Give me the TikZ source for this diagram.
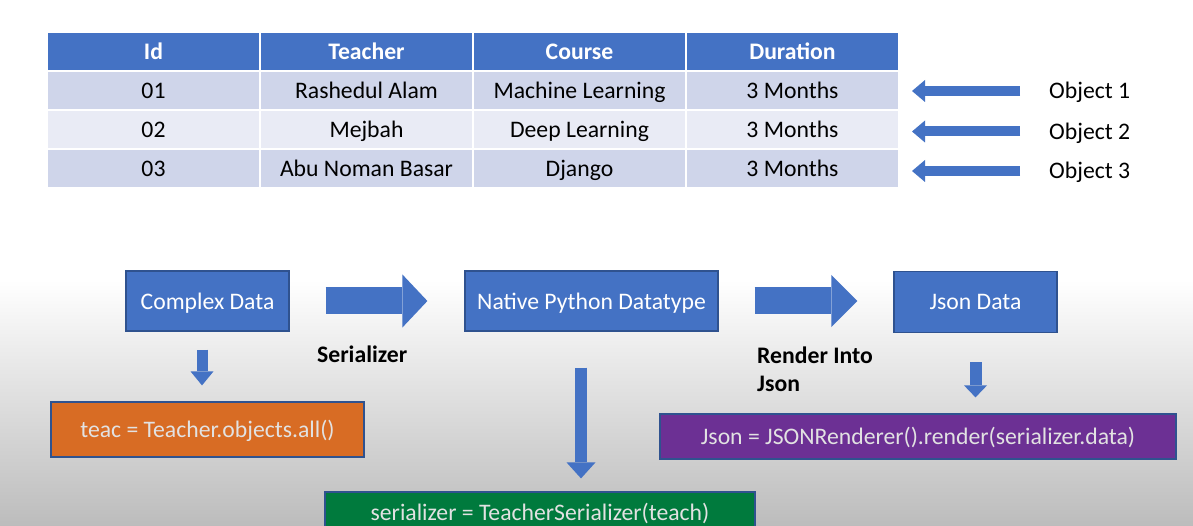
\documentclass[tikz,border=0pt]{standalone}
\usepackage{fontspec}
\setmainfont{Carlito}
\usetikzlibrary{positioning,arrows.meta,calc}
\definecolor{ppblue}{RGB}{68,114,196}
\definecolor{ppedge}{RGB}{47,82,143}
\definecolor{rowdark}{RGB}{207,213,234}
\definecolor{rowlight}{RGB}{233,235,245}
\definecolor{pporange}{RGB}{216,108,36}
\definecolor{pppurple}{RGB}{108,48,148}
\definecolor{ppgreen}{RGB}{0,122,61}
\definecolor{boxtext}{RGB}{226,226,226}
\definecolor{bggray}{RGB}{188,188,188}
\tikzset{
  txt/.style={font=\fontsize{23.7}{29}\selectfont, text height=19pt, text depth=3pt},
  txtb/.style={txt, font=\fontsize{23.7}{29}\selectfont\bfseries},
  cell/.style={txt, draw=white, line width=2pt, minimum width=213pt, minimum height=39pt, inner sep=0pt},
  head/.style={cell, fill=ppblue, text=white, txtb},
  box/.style={txt, draw=ppedge, line width=1.2pt, fill=ppblue, text=white, minimum height=60pt, inner sep=0pt},
  codebox/.style={txt, draw=ppedge, line width=1.2pt, text=boxtext, minimum height=55pt, inner sep=0pt},
  blockarrow/.style n args={3}{ppblue, line width=#1, -{Triangle[width=#2,length=#3,line width=0pt]}}
}

\begin{document}
\begin{tikzpicture}[x=1pt,y=-1pt]
\useasboundingbox (0,0) rectangle (1193,526);
\clip (0,0) rectangle (1193,526);
\fill[white] (0,0) rectangle (1193,526);
\begin{scope}[y=1pt]
\shade[top color=white, bottom color=bggray] (0,-280) rectangle (1193,-526);
\end{scope}

% table
\foreach \t [count=\i] in {Id,Teacher,Course,Duration}
  \node[head] (h\i) at (\i*213-59.5,51.5) {\t};

\node[cell, fill=rowdark] (r1c1) at (153.5,91) {01};
\node[cell, fill=rowdark] (r1c2) at (366.5,91) {Rashedul Alam};
\node[cell, fill=rowdark] (r1c3) at (579.5,91) {Machine Learning};
\node[cell, fill=rowdark] (r1c4) at (792.5,91) {3 Months};

\node[cell, fill=rowlight] (r2c1) at (153.5,130) {02};
\node[cell, fill=rowlight] (r2c2) at (366.5,130) {Mejbah};
\node[cell, fill=rowlight] (r2c3) at (579.5,130) {Deep Learning};
\node[cell, fill=rowlight] (r2c4) at (792.5,130) {3 Months};

\node[cell, fill=rowdark] (r3c1) at (153.5,169) {03};
\node[cell, fill=rowdark] (r3c2) at (366.5,169) {Abu Noman Basar};
\node[cell, fill=rowdark] (r3c3) at (579.5,169) {Django};
\node[cell, fill=rowdark] (r3c4) at (792.5,169) {3 Months};

\node[txt, anchor=west, inner sep=0pt] (obj1) at (1049,91) {Object 1};
\node[txt, anchor=west, inner sep=0pt] (obj2) at (1049,131.5) {Object 2};
\node[txt, anchor=west, inner sep=0pt] (obj3) at (1049,171) {Object 3};

\foreach \r in {1,2,3}
  \draw[blockarrow={10pt}{22pt}{13pt}, shorten <=29pt, shorten >=12pt]
    (obj\r.west) -- (obj\r.west -| r\r c4.east);

% flow
\node[box, minimum width=163pt] (cplx) at (207.5,301) {Complex Data};
\node[box, minimum width=253pt] (native) at (591.5,301) {Native Python Datatype};
\node[box, minimum width=163pt, minimum height=61pt] (json) at (975.5,302) {Json Data};

\node[codebox, fill=pporange, minimum width=313pt] (teac) at (207.5,429.5) {teac = Teacher.objects.all()};
\node[codebox, fill=pppurple, minimum width=516pt, minimum height=45pt] (render) at (918,436.5) {Json = JSONRenderer().render(serializer.data)};
\node[codebox, fill=ppgreen, minimum width=430pt, minimum height=40pt] (ser) at (540,512) {serializer = TeacherSerializer(teach)};

\node[txtb, anchor=west, inner sep=0pt] (serlbl) at (317,354) {Serializer};
\node[txtb, anchor=west, inner sep=0pt] (renderlbl) at (757,355) {Render Into};
\node[txtb, anchor=west, inner sep=0pt] (jsonlbl) at (757,383) {Json};

\draw[blockarrow={27pt}{53pt}{25pt}, shorten <=36pt, shorten >=37pt] (cplx.east) -- (native.west);
\draw[blockarrow={27pt}{52pt}{26pt}, shorten <=36pt, shorten >=36pt] (native.east) -- (native.east -| json.west);

\draw[blockarrow={11pt}{23pt}{14pt}, shorten <=18pt, shorten >=16pt]
  ([xshift=-5.5pt]cplx.south) -- ([xshift=-5.5pt]cplx.south |- teac.north);
\draw[blockarrow={12pt}{29pt}{16pt}, shorten <=36pt, shorten >=13pt]
  ([xshift=-10.5pt]native.south) -- ([xshift=-10.5pt]native.south |- ser.north);
\draw[blockarrow={12pt}{23pt}{12pt}, shorten <=29pt, shorten >=16pt]
  (json.south) -- (json.south |- render.north);

\end{tikzpicture}
\end{document}
